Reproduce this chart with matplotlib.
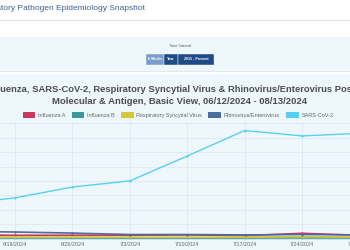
import matplotlib
matplotlib.use("Agg")
import matplotlib.pyplot as plt
from matplotlib.patches import Rectangle
import pandas as pd

plt.rcParams['font.family'] = ['Liberation Sans', 'DejaVu Sans']

weeks = ['2024-06-12', '2024-06-19', '2024-06-26', '2024-07-03', '2024-07-10',
         '2024-07-17', '2024-07-24', '2024-07-31', '2024-08-07']
tick_labels = ['6/12/2024', '6/19/2024', '6/26/2024', '7/3/2024', '7/10/2024',
               '7/17/2024', '7/24/2024', '7/31/2024', '8/7/2024']

flu_a = [0.50, 0.45, 0.45, 0.45, 0.50, 0.40, 0.72, 0.45, 0.40]
flu_b = [0.08, 0.08, 0.07, 0.07, 0.07, 0.07, 0.08, 0.07, 0.07]
rsv = [0.22, 0.20, 0.20, 0.18, 0.18, 0.20, 0.25, 0.20, 0.20]
rhino = [1.00, 0.90, 0.75, 0.55, 0.55, 0.50, 0.55, 0.50, 0.50]
sars = [4.7, 5.65, 7.15, 8.0, 11.45, 15.0, 14.25, 14.6, 14.0]

names = ['Influenza A', 'Influenza B', 'Respiratory Syncytial Virus',
         'Rhinovirus/Enterovirus', 'SARS-CoV-2']
colors = ['#c9375d', '#3b9a98', '#d6c63c', '#4b6d9c', '#58d0f2']
series = [flu_a, flu_b, rsv, rhino, sars]

W, H = 350, 250
bg = '#eef7fc'


def fx(px):
    return px / W


def fy(py):
    return 1 - py / H


def band(y0, y1, color):
    # full-width strip behind everything, in pixel rows y0..y1
    fig.add_artist(Rectangle((0, fy(y1)), 1, fy(y0) - fy(y1), transform=fig.transFigure,
                             facecolor=color, edgecolor='none', zorder=-5))


fig = plt.figure(figsize=(3.5, 2.5), dpi=100)
fig.patch.set_facecolor('white')

# page header
fig.text(fx(145), fy(9), 'Respiratory Pathogen Epidemiology Snapshot', ha='right', va='center',
         fontsize=6.0, color='#3b5f96')
band(20, 21, '#e4e8ec')

# time interval panel
band(37, 71, bg)
band(71, 72, '#dde8f0')
fig.text(fx(180), fy(46), 'Time Interval', ha='center', va='center', fontsize=2.8, color='#555555')
buttons = [('6 Weeks', 146, 164, '#7c9ccb'), ('Year', 164, 178, '#1e4a86'),
           ('2015 - Present', 178, 214, '#1e4a86')]
for label, x0, x1, c in buttons:
    fig.add_artist(Rectangle((fx(x0), fy(65)), fx(x1 - x0), fy(54) - fy(65),
                             transform=fig.transFigure, facecolor=c, edgecolor='white', lw=0.3))
    fig.text(fx((x0 + x1) / 2), fy(59.5), label, ha='center', va='center', fontsize=2.6,
             color='white', fontweight='bold')

# chart panel
band(74, 250, bg)

fig.text(fx(-14.5), fy(89), 'Influenza, SARS-CoV-2, Respiratory Syncytial Virus & Rhinovirus/Enterovirus '
         'Positivity by Test Type,', ha='left', va='center', fontsize=6.76, fontweight='bold', color='#4d4d4d')
fig.text(fx(180), fy(101), 'Molecular & Antigen, Basic View, 06/12/2024 - 08/13/2024',
         ha='center', va='center', fontsize=6.8, fontweight='bold', color='#4d4d4d')

# plot area extends past both edges of the screenshot
left_px, right_px, top_px, bottom_px = -70, 420, 122, 238.5
ax = fig.add_axes([fx(left_px), fy(bottom_px), fx(right_px - left_px), fy(top_px) - fy(bottom_px)])
ax.set_facecolor(bg)

dates = pd.to_datetime(weeks)
for vals, name, c in zip(series, names, colors):
    ax.plot(dates, vals, color=c, lw=1.0 if name == 'SARS-CoV-2' else 1.2, label=name,
            marker='o', markersize=1.6, markeredgewidth=0, solid_capstyle='round')

x_px_per_day = 8.2
ref = pd.Timestamp('2024-06-19')
ax.set_xlim(ref + pd.Timedelta(days=(left_px - 15) / x_px_per_day),
            ref + pd.Timedelta(days=(right_px - 15) / x_px_per_day))
ax.set_ylim(0, 2 * (bottom_px - top_px) / 14.4)
ax.set_yticks(range(0, 17, 2))
ax.set_yticklabels([])
ax.set_xticks(dates)
ax.set_xticklabels(tick_labels, fontsize=3.9, color='#666666')
ax.tick_params(axis='y', length=0)
ax.tick_params(axis='x', length=0, pad=2.5)
ax.grid(True, color='#dbe6ee', lw=0.5)
ax.set_axisbelow(True)
for s in ax.spines.values():
    s.set_visible(False)
ax.spines['bottom'].set_visible(True)
ax.spines['bottom'].set_color('#c8d3dc')
ax.spines['bottom'].set_linewidth(0.5)

handles = [Rectangle((0, 0), 1, 1, facecolor=c, edgecolor='none') for c in colors]
fig.legend(handles, names, loc='center', bbox_to_anchor=(fx(178), fy(115)), ncol=5,
           frameon=False, fontsize=4.0, handlelength=2.3, handleheight=1.1, handletextpad=0.5,
           columnspacing=1.1, labelcolor='#666666', borderpad=0)

fig.savefig('out.png', dpi=100, facecolor=fig.get_facecolor())
